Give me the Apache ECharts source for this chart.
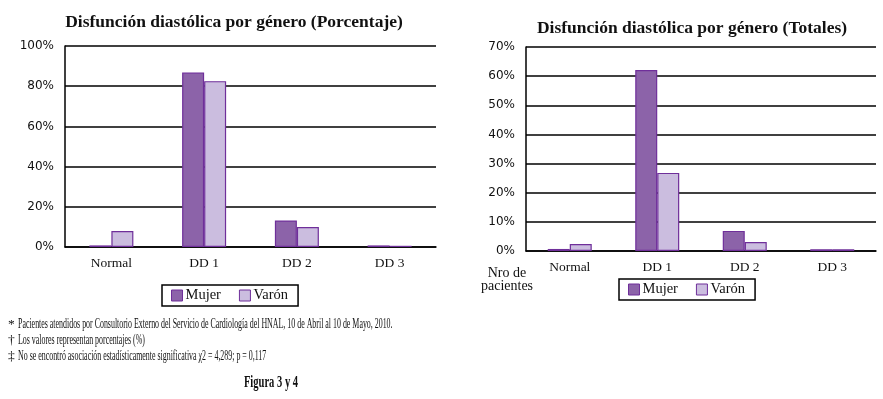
<!DOCTYPE html>
<html>
<head>
<meta charset="utf-8">
<script src="https://cdn.jsdelivr.net/npm/echarts@6/dist/echarts.min.js"></script>
<style>
  html, body { margin: 0; padding: 0; background: #fff; }
  #chart { width: 883px; height: 399px; }
</style>
</head>
<body>
<div id="chart"></div>
<script>
// categories and series
const categories = ["Normal", "DD 1", "DD 2", "DD 3"];
const seriesNames = ["Mujer", "Varón"];

// left chart: porcentaje
const pctMujer = [0.8, 86.8, 13.2, 0.8];
const pctVaron = [7.9, 82.5, 9.9, 0.6];

// right chart: totales
const totMujer = [0.7, 62.1, 6.9, 0.6];
const totVaron = [2.4, 26.8, 3.1, 0.6];

const footnotes = [
  ["*", "Pacientes atendidos por Consultorio Externo del Servicio de Cardiología del HNAL, 10 de Abril al 10 de Mayo, 2010."],
  ["†", "Los valores representan porcentajes (%)"],
  ["‡", "No se encontró asociación estadísticamente significativa χ2 = 4,289; p = 0,117"]
];

const colMujer = "#8c63a9";
const colVaron = "#cbbddf";
const colBorder = "#6f2f9a";
const serif = "'Liberation Serif', 'Times New Roman', serif";
const sans = "'DejaVu Sans', Verdana, sans-serif";

const chart = echarts.init(document.getElementById("chart"));

const yAxisBase = (max, interval, gridIndex) => ({
  type: "value",
  gridIndex: gridIndex,
  min: 0,
  max: max,
  interval: interval,
  axisLine: { show: true, lineStyle: { color: "#000", width: 1.5 } },
  axisTick: { show: false },
  splitLine: { lineStyle: { color: "#000", width: 1.5 } },
  axisLabel: {
    formatter: "{value}%",
    fontFamily: sans,
    fontSize: 12,
    color: "#111",
    margin: 11
  }
});

const xAxisBase = (gridIndex) => ({
  type: "category",
  gridIndex: gridIndex,
  data: categories,
  axisLine: { show: true, lineStyle: { color: "#000", width: 1.5 } },
  axisTick: { show: false },
  axisLabel: { fontFamily: serif, fontSize: 13.5, color: "#111", margin: 9 }
});

const barSeries = (name, data, color, idx) => ({
  name: name,
  type: "bar",
  xAxisIndex: idx,
  yAxisIndex: idx,
  data: data,
  barWidth: 22,
  barGap: "0%",
  itemStyle: { color: color, borderColor: colBorder, borderWidth: 1.2 }
});

const legendBase = (left, top) => ({
  data: seriesNames,
  left: left,
  top: top,
  orient: "horizontal",
  icon: "rect",
  itemWidth: 11,
  itemHeight: 11,
  itemGap: 18,
  padding: [3, 10, 3, 9],
  borderColor: "#000",
  borderWidth: 1.5,
  itemStyle: { borderColor: colBorder, borderWidth: 1 },
  textStyle: { fontFamily: serif, fontSize: 14.5, color: "#111", padding: [0, 0, 0, -2] }
});

const footnoteText = (txt, x, y, size, weight, scale, align) => ({
  type: "text",
  x: x,
  y: y,
  scaleX: scale,
  style: {
    text: txt,
    fontFamily: serif,
    fontSize: size,
    fontWeight: weight,
    fill: "#111",
    align: align
  }
});

const option = {
  backgroundColor: "#fff",
  animation: false,
  color: [colMujer, colVaron],
  title: [
    {
      text: "Disfunción diastólica por género (Porcentaje)",
      left: 229,
      textAlign: "center",
      top: 8,
      textStyle: { fontFamily: serif, fontSize: 17.5, fontWeight: "bold", color: "#111" }
    },
    {
      text: "Disfunción diastólica por género (Totales)",
      left: 687,
      textAlign: "center",
      top: 14,
      textStyle: { fontFamily: serif, fontSize: 17.5, fontWeight: "bold", color: "#111" }
    }
  ],
  grid: [
    { left: 65, right: 447, top: 46, bottom: 152 },
    { left: 526, right: 7, top: 47, bottom: 148 }
  ],
  xAxis: [xAxisBase(0), xAxisBase(1)],
  yAxis: [yAxisBase(100, 20, 0), yAxisBase(70, 10, 1)],
  legend: [legendBase(162, 285), legendBase(619, 279)],
  series: [
    barSeries("Mujer", pctMujer, colMujer, 0),
    barSeries("Varón", pctVaron, colVaron, 0),
    barSeries("Mujer", totMujer, colMujer, 1),
    barSeries("Varón", totVaron, colVaron, 1)
  ],
  graphic: [
    {
      type: "text",
      x: 507,
      y: 267,
      style: {
        text: "Nro de\npacientes",
        fontFamily: serif,
        fontSize: 14,
        lineHeight: 13,
        fill: "#111",
        align: "center"
      }
    },
    ...footnotes.map((f, i) => ({
      type: "group",
      x: 8,
      y: 317 + i * 16,
      children: [
        footnoteText(f[0], 0, 0, 13.5, "normal", 1, "left"),
        footnoteText(f[1], 10, 0, 14, "normal", 0.565, "left")
      ]
    })),
    footnoteText("Figura 3 y 4", 271, 374, 17, "bold", 0.62, "center")
  ]
};

chart.setOption(option);
</script>
</body>
</html>
